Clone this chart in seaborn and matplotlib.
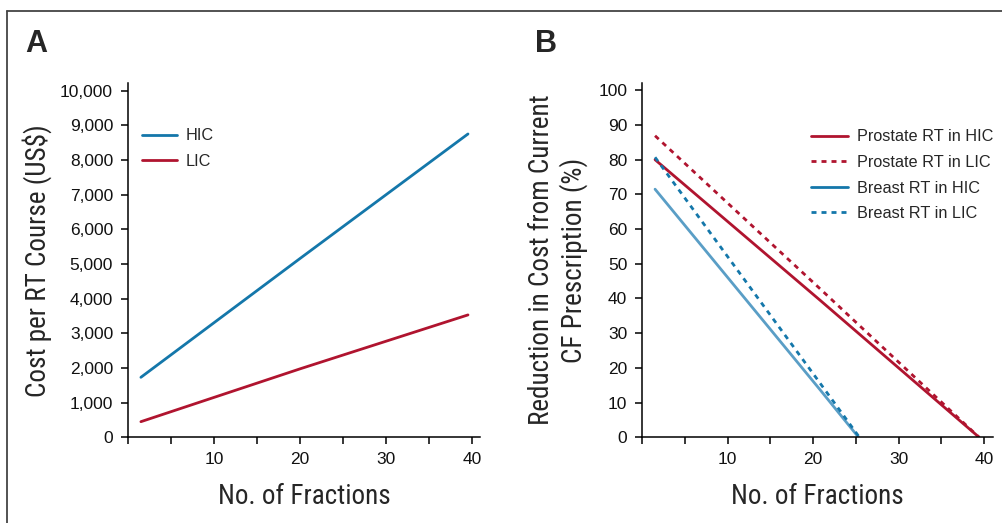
import os
import pandas as pd
import matplotlib
matplotlib.use('Agg')
import matplotlib.pyplot as plt
from matplotlib.lines import Line2D
from matplotlib import font_manager
import seaborn as sns


# ---------------------------- DATA ----------------------------
# Panel A: cost per RT course vs number of fractions
cost_fractions = [1.5, 20, 39.5]
cost_hic = [1730, 5160, 8750]
cost_lic = [450, 1975, 3530]

# Panel B: reduction in cost vs number of fractions
prostate_fractions = [1.5, 20.8, 39.4]
prostate_hic = [80.0, 39.5, 0]
prostate_lic = [86.9, 42.8, 0]
breast_hic_fractions = [1.5, 20.8, 25.3]
breast_hic = [71.5, 13.7, 0]
breast_lic_fractions = [1.5, 20.8, 25.4]
breast_lic = [80.7, 15.6, 0]

cost_ticks = [0, 1000, 2000, 3000, 4000, 5000, 6000, 7000, 8000, 9000, 10000]
reduction_ticks = [0, 10, 20, 30, 40, 50, 60, 70, 80, 90, 100]
fraction_ticks = [0, 5, 10, 15, 20, 25, 30, 35, 40]
fraction_labels = ['', '', '10', '', '20', '', '30', '', '40']

# ---------------------------- STYLE ----------------------------
RED = '#b0142f'
BLUE = '#1477aa'
LIGHT_BLUE = '#5a9ec6'

sns.set_style('ticks')
plt.rcParams['font.family'] = ['Liberation Sans', 'DejaVu Sans']


# >>> Look for a condensed sans font for the axis titles
def condensed_font(size):
    entries = font_manager.fontManager.ttflist
    prefs = ['Liberation Sans Narrow', 'Roboto Condensed', 'Noto Sans', 'Open Sans', 'DejaVu Sans']
    found = []
    for f in entries:
        base = os.path.basename(f.fname)
        if f.style != 'normal' or 'Bold' in base or 'Italic' in base or 'Light' in base \
                or 'Medium' in base or 'Semi' in base or 'Extra' in base or 'Thin' in base \
                or 'Black' in base or 'Display' in base or 'Mono' in base:
            continue
        if 'Condensed' in base or 'Narrow' in base:
            rank = next((i for i, p in enumerate(prefs) if f.name.startswith(p)), len(prefs))
            found.append((rank, f.fname))
    if found:
        found.sort()
        return font_manager.FontProperties(fname=found[0][1], size=size)
    return font_manager.FontProperties(family='DejaVu Sans', stretch='condensed', size=size)


label_prop = condensed_font(19.5)

# long-form tables for seaborn
df_a = pd.DataFrame({
    'fractions': cost_fractions + cost_fractions,
    'cost': cost_hic + cost_lic,
    'group': ['HIC'] * len(cost_hic) + ['LIC'] * len(cost_lic),
})

names_b = ['Prostate RT in HIC', 'Prostate RT in LIC', 'Breast RT in HIC', 'Breast RT in LIC']
df_b = pd.DataFrame({
    'fractions': prostate_fractions + prostate_fractions + breast_hic_fractions + breast_lic_fractions,
    'reduction': prostate_hic + prostate_lic + breast_hic + breast_lic,
    'group': sum([[n] * 3 for n in names_b], []),
})

fig = plt.figure(figsize=(10.03, 5.23), dpi=100)
ax1 = fig.add_axes([0.1276, 0.1639, 0.351, 0.6774])
ax2 = fig.add_axes([0.6403, 0.1639, 0.3495, 0.6774])

# ---------------------------- PANEL A ----------------------------
sns.lineplot(data=df_a, x='fractions', y='cost', hue='group',
             palette={'HIC': BLUE, 'LIC': RED}, estimator=None,
             linewidth=2, ax=ax1, legend=False)
ax1.set_xlim(0, 40.9)
ax1.set_ylim(0, 10220)
ax1.set_yticks(cost_ticks, [f'{v:,}' for v in cost_ticks])

handles_a = [Line2D([], [], color=BLUE, lw=2), Line2D([], [], color=RED, lw=2)]
ax1.legend(handles_a, ['HIC', 'LIC'], loc='upper left', bbox_to_anchor=(0.039, 0.872),
           frameon=False, fontsize=11.7, handlelength=2.2, handletextpad=0.5,
           labelspacing=0.65, borderpad=0, borderaxespad=0)

ax1.set_ylabel('Cost per RT Course (US$)', fontproperties=label_prop)

# ---------------------------- PANEL B ----------------------------
sns.lineplot(data=df_b, x='fractions', y='reduction', hue='group', style='group',
             palette={names_b[0]: RED, names_b[1]: RED, names_b[2]: LIGHT_BLUE, names_b[3]: BLUE},
             dashes={names_b[0]: '', names_b[1]: (1.8, 1.8), names_b[2]: '', names_b[3]: (1.8, 1.8)},
             estimator=None, linewidth=2, ax=ax2, legend=False)
ax2.set_xlim(0, 41.0)
ax2.set_ylim(0, 102.1)
ax2.set_yticks(reduction_ticks)

handles_b = [Line2D([], [], color=RED, lw=2),
             Line2D([], [], color=RED, lw=2, dashes=(1.8, 1.8)),
             Line2D([], [], color=BLUE, lw=2),
             Line2D([], [], color=BLUE, lw=2, dashes=(1.8, 1.8))]
ax2.legend(handles_b, names_b, loc='upper left', bbox_to_anchor=(0.4816, 0.869),
           frameon=False, fontsize=11.7, handlelength=2.3, handletextpad=0.55,
           labelspacing=0.65, borderpad=0, borderaxespad=0)

ax2.set_ylabel('Reduction in Cost from Current\nCF Prescription (%)', fontproperties=label_prop,
               linespacing=1.2)

# ---------------------------- COMMON AXES ----------------------------
for ax, ylab_x in [(ax1, -0.257), (ax2, -0.240)]:
    sns.despine(ax=ax)
    ax.set_xticks(fraction_ticks, fraction_labels)
    ax.set_xlabel('No. of Fractions', fontproperties=label_prop)
    ax.xaxis.set_label_coords(0.5, -0.1685)
    ax.xaxis.label.set_va('center')
    ax.yaxis.set_label_coords(ylab_x, 0.5)
    ax.yaxis.label.set_va('center')
    for side in ['left', 'bottom']:
        ax.spines[side].set_linewidth(1.1)
        ax.spines[side].set_color('black')
    ax.tick_params(axis='both', length=5.2, width=1.1, color='black',
                   labelsize=12.5, labelcolor='#111111', pad=5.5)

# panel letters
fig.text(25 / 1003, 1 - 44 / 523, 'A', fontsize=22, fontweight='bold', ha='left', va='center')
fig.text(535 / 1003, 1 - 44 / 523, 'B', fontsize=22, fontweight='bold', ha='left', va='center')

# outer frame (cut off at right and bottom)
fig.add_artist(Line2D([7 / 1003, 1002 / 1003], [1 - 11 / 523, 1 - 11 / 523],
                      transform=fig.transFigure, color='#444444', lw=1.3))
fig.add_artist(Line2D([7 / 1003, 7 / 1003], [0, 1 - 11 / 523],
                      transform=fig.transFigure, color='#444444', lw=1.3))

fig.savefig('out.png', dpi=100)
